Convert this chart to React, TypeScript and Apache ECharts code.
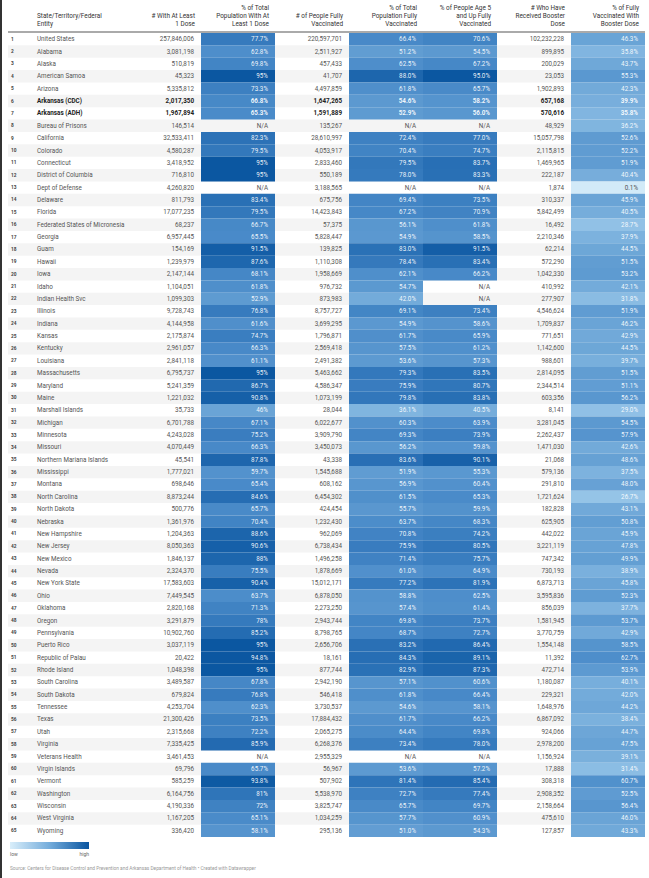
import React, { useEffect, useRef } from "react";
import * as echarts from "echarts";

const entities = [
  "United States", "Alabama", "Alaska", "American Samoa", "Arizona", "Arkansas (CDC)", "Arkansas (ADH)",
  "Bureau of Prisons", "California", "Colorado", "Connecticut", "District of Columbia", "Dept of Defense",
  "Delaware", "Florida", "Federated States of Micronesia", "Georgia", "Guam", "Hawaii", "Iowa", "Idaho",
  "Indian Health Svc", "Illinois", "Indiana", "Kansas", "Kentucky", "Louisiana", "Massachusetts", "Maryland",
  "Maine", "Marshall Islands", "Michigan", "Minnesota", "Missouri", "Northern Mariana Islands", "Mississippi",
  "Montana", "North Carolina", "North Dakota", "Nebraska", "New Hampshire", "New Jersey", "New Mexico",
  "Nevada", "New York State", "Ohio", "Oklahoma", "Oregon", "Pennsylvania", "Puerto Rico", "Republic of Palau",
  "Rhode Island", "South Carolina", "South Dakota", "Tennessee", "Texas", "Utah", "Virginia", "Veterans Health",
  "Virgin Islands", "Vermont", "Washington", "Wisconsin", "West Virginia", "Wyoming",
];

const atLeastOneDose = [
  257846006, 3081198, 510819, 45323, 5335812, 2017350, 1967894, 146514, 32533411, 4580287, 3418952, 716810,
  4260820, 811793, 17077235, 68237, 6957445, 154169, 1239979, 2147144, 1104051, 1099303, 9728743, 4144958,
  2175874, 2961057, 2841118, 6795737, 5241359, 1221032, 35733, 6701788, 4243028, 4070449, 45541, 1777021,
  698646, 8873244, 500776, 1361976, 1204363, 8050363, 1846137, 2324370, 17583603, 7449545, 2820168, 3291879,
  10902760, 3037119, 20422, 1048398, 3489587, 679824, 4253704, 21300426, 2315668, 7335425, 3461453, 69796,
  585259, 6164756, 4190336, 1167205, 336420,
];

const pctAtLeastOneDose = [
  77.7, 62.8, 69.8, 95, 73.3, 66.8, 65.3, null, 82.3, 79.5, 95, 95, null, 83.4, 79.5, 66.7, 65.5, 91.5, 87.6,
  68.1, 61.8, 52.9, 76.8, 61.6, 74.7, 66.3, 61.1, 95, 86.7, 90.8, 46, 67.1, 75.2, 66.3, 87.8, 59.7, 65.4, 84.6,
  65.7, 70.4, 88.6, 90.6, 88, 75.5, 90.4, 63.7, 71.3, 78, 85.2, 95, 94.8, 95, 67.8, 76.8, 62.3, 73.5, 72.2,
  85.9, null, 65.7, 93.8, 81, 72, 65.1, 58.1,
];

const fullyVaccinated = [
  220597701, 2511927, 457433, 41707, 4497859, 1647265, 1591889, 135267, 28610997, 4053917, 2833460, 550189,
  3188565, 675756, 14423843, 57375, 5828447, 139825, 1110308, 1958669, 976732, 873983, 8757727, 3699295,
  1796871, 2569418, 2491382, 5463662, 4586347, 1073199, 28044, 6022677, 3909790, 3450073, 43338, 1545688,
  608162, 6454302, 424454, 1232430, 962069, 6738434, 1496258, 1878669, 15012171, 6878050, 2273250, 2943744,
  8798765, 2656706, 18161, 877744, 2942190, 546418, 3730537, 17884432, 2065275, 6268376, 2955329, 56967,
  507902, 5538970, 3825747, 1034259, 295136,
];

const pctFullyVaccinated = [
  66.4, 51.2, 62.5, 88.0, 61.8, 54.6, 52.9, null, 72.4, 70.4, 79.5, 78.0, null, 69.4, 67.2, 56.1, 54.9, 83.0,
  78.4, 62.1, 54.7, 42.0, 69.1, 54.9, 61.7, 57.5, 53.6, 79.3, 75.9, 79.8, 36.1, 60.3, 69.3, 56.2, 83.6, 51.9,
  56.9, 61.5, 55.7, 63.7, 70.8, 75.9, 71.4, 61.0, 77.2, 58.8, 57.4, 69.8, 68.7, 83.2, 84.3, 82.9, 57.1, 61.8,
  54.6, 61.7, 64.4, 73.4, null, 53.6, 81.4, 72.7, 65.7, 57.7, 51.0,
];

const pctAge5UpFully = [
  70.6, 54.5, 67.2, 95.0, 65.7, 58.2, 56.0, null, 77.0, 74.7, 83.7, 83.3, null, 73.5, 70.9, 61.8, 58.5, 91.5,
  83.4, 66.2, null, null, 73.4, 58.6, 65.9, 61.2, 57.3, 83.5, 80.7, 83.8, 40.5, 63.9, 73.9, 59.8, 90.1, 55.3,
  60.4, 65.3, 59.9, 68.3, 74.2, 80.5, 75.7, 64.9, 81.9, 62.5, 61.4, 73.7, 72.7, 86.4, 89.1, 87.3, 60.6, 66.4,
  58.1, 66.2, 69.8, 78.0, null, 57.2, 85.4, 77.4, 69.7, 60.9, 54.3,
];

const boosterReceived = [
  102232228, 899895, 200029, 23053, 1902893, 657168, 570616, 48929, 15057798, 2115815, 1469965, 222187, 1874,
  310337, 5842499, 16492, 2210346, 62214, 572290, 1042330, 410992, 277907, 4546624, 1709837, 771651, 1142600,
  988601, 2814095, 2344514, 603356, 8141, 3281045, 2262437, 1471030, 21068, 579136, 291810, 1721624, 182828,
  625905, 442022, 3221119, 747342, 730193, 6873713, 3595836, 856039, 1581945, 3770759, 1554148, 11392, 472714,
  1180087, 229321, 1648976, 6867092, 924066, 2978200, 1156924, 17888, 308318, 2908352, 2158664, 475610, 127857,
];

const pctBoosted = [
  46.3, 35.8, 43.7, 55.3, 42.3, 39.9, 35.8, 36.2, 52.6, 52.2, 51.9, 40.4, 0.1, 45.9, 40.5, 28.7, 37.9, 44.5,
  51.5, 53.2, 42.1, 31.8, 51.9, 46.2, 42.9, 44.5, 39.7, 51.5, 51.1, 56.2, 29.0, 54.5, 57.9, 42.6, 48.6, 37.5,
  48.0, 26.7, 43.1, 50.8, 45.9, 47.8, 49.9, 38.9, 45.8, 52.3, 37.7, 53.7, 42.9, 58.5, 62.7, 53.9, 40.1, 42.0,
  44.2, 38.4, 44.7, 47.5, 39.1, 31.4, 60.7, 52.5, 56.4, 46.0, 43.3,
];

const columnHeaders = [
  "# With At Least\n1 Dose",
  "% of Total\nPopulation With At\nLeast 1 Dose",
  "# of People Fully\nVaccinated",
  "% of Total\nPopulation Fully\nVaccinated",
  "% of People Age 5\nand Up Fully\nVaccinated",
  "# Who Have\nReceived Booster\nDose",
  "% of Fully\nVaccinated With\nBooster Dose",
];

const boldEntities = ["Arkansas (CDC)", "Arkansas (ADH)"];

const columns: (number | null)[][] = [
  atLeastOneDose, pctAtLeastOneDose, fullyVaccinated, pctFullyVaccinated, pctAge5UpFully, boosterReceived, pctBoosted,
];
const isPct = [false, true, false, true, true, false, true];

// colour stops (value -> colour)
const stopValues = [0, 30, 46, 65, 80, 95];
const stopColors = ["#d2eaf8", "#8ebfe5", "#6aa4d6", "#4a8bc9", "#3277bb", "#0b57a1"];
const FONT = "Roboto";

function scaleColor(v: number) {
  if (v <= stopValues[0]) return stopColors[0];
  for (let k = 1; k < stopValues.length; k++) {
    if (v <= stopValues[k]) {
      const t = (v - stopValues[k - 1]) / (stopValues[k] - stopValues[k - 1]);
      return echarts.color.lerp(t, [stopColors[k - 1], stopColors[k]]) as string;
    }
  }
  return stopColors[stopColors.length - 1];
}

function fmt(j: number, v: number | null) {
  if (v == null) return "N/A";
  if (!isPct[j]) return v.toLocaleString("en-US");
  if (j === 1) return Number.isInteger(v) ? `${v}%` : `${v.toFixed(1)}%`;
  return `${v.toFixed(1)}%`;
}

export default function App() {
  const ref = useRef<HTMLDivElement>(null);
  useEffect(() => {
    if (!ref.current) return;
    const chart = echarts.init(ref.current, undefined, { renderer: "svg" });

    const cellData: number[][] = [];
    entities.forEach((_, i) => {
      columns.forEach((_, j) => cellData.push([j, i]));
    });
    const rowData = entities.map((_, i) => [0, i]);

    const option: any = {
      animation: false,
      backgroundColor: "#ffffff",
      textStyle: { fontFamily: FONT },
      grid: { left: 127, right: 4, top: 33, bottom: 41 },
      xAxis: {
        type: "category",
        data: columnHeaders,
        position: "top",
        z: 10,
        axisLine: { show: false },
        axisTick: { show: false },
        splitLine: { show: false },
        axisLabel: {
          interval: 0,
          margin: 5,
          formatter: (v: string) => v.split("\n").map((l) => `{h|${l}}`).join("\n"),
          rich: {
            h: { width: 62, align: "right", fontSize: 6.4, lineHeight: 8, color: "#333", fontFamily: FONT },
          },
        },
      },
      yAxis: {
        type: "category",
        data: entities,
        inverse: true,
        z: 10,
        axisLine: { show: false },
        axisTick: { show: false },
        splitLine: { show: false },
        axisLabel: {
          interval: 0,
          margin: 116,
          align: "left",
          formatter: (v: string, idx: number) => {
            const b = boldEntities.includes(v);
            return `{${b ? "nb" : "n"}|${idx + 1}}{${b ? "sb" : "s"}|${v}}`;
          },
          rich: {
            n: { width: 26, fontSize: 4.8, fontWeight: "bold", color: "#444", fontFamily: FONT },
            nb: { width: 26, fontSize: 4.8, fontWeight: "bold", color: "#444", fontFamily: FONT },
            s: { fontSize: 6.3, color: "#555", fontFamily: FONT },
            sb: { fontSize: 6.3, fontWeight: "bold", color: "#222", fontFamily: FONT },
          },
        },
      },
      series: [
        {
          type: "custom",
          silent: true,
          data: rowData,
          z: 0,
          zlevel: 0,
          renderItem: (params: any, api: any) => {
            const i = params.dataIndex;
            const c = api.coord([0, i]);
            const h = api.size([0, 1])[1];
            const cs = params.coordSys;
            if (i % 2 === 0) return { type: "group", children: [] };
            return {
              type: "rect",
              z2: -10,
              shape: { x: cs.x - 119, y: c[1] - h / 2, width: cs.width + 119, height: h },
              style: { fill: "#f4f4f4" },
            };
          },
        },
        {
          type: "custom",
          silent: true,
          data: cellData,
          z: 2,
          renderItem: (params: any, api: any) => {
            const idx = params.dataIndex;
            const j = idx % columns.length;
            const i = Math.floor(idx / columns.length);
            const c = api.coord([j, i]);
            const s = api.size([1, 1]);
            const x0 = c[0] - s[0] / 2;
            const y0 = c[1] - s[1] / 2;
            const v = columns[j][i];
            const bold = boldEntities.includes(entities[i]);
            const children: any[] = [];
            let fill = bold ? "#222" : "#555";
            if (isPct[j] && v != null) {
              children.push({
                type: "rect",
                shape: { x: x0, y: y0, width: s[0], height: s[1] },
                style: { fill: scaleColor(v) },
              });
              fill = v < 15 ? "#555" : "rgba(255,255,255,0.92)";
            }
            children.push({
              type: "text",
              style: {
                text: fmt(j, v),
                x: x0 + s[0] - 7,
                y: c[1],
                align: "right",
                verticalAlign: "middle",
                fill,
                fontSize: 6.3,
                fontFamily: FONT,
                fontWeight: bold ? "bold" : "normal",
              },
            });
            return { type: "group", children };
          },
        },
      ],
      graphic: [
        {
          type: "line",
          shape: { x1: 1, y1: 0, x2: 1, y2: 878 },
          style: { stroke: "#333", lineWidth: 2 },
        },
        {
          type: "line",
          shape: { x1: 8, y1: 32, x2: 645, y2: 32 },
          style: { stroke: "#aaaaaa", lineWidth: 2 },
        },
        {
          type: "text",
          x: 37,
          y: 12,
          style: {
            text: "State/Territory/Federal\nEntity",
            fontSize: 6.4,
            lineHeight: 8,
            fill: "#333",
            fontFamily: FONT,
          },
        },
        {
          type: "rect",
          shape: { x: 10, y: 842, width: 79, height: 7 },
          style: {
            fill: new echarts.graphic.LinearGradient(0, 0, 1, 0, [
              { offset: 0, color: "#d9eefa" },
              { offset: 0.5, color: "#74acdb" },
              { offset: 1, color: "#0a55a0" },
            ]),
          },
        },
        {
          type: "text",
          x: 10,
          y: 851,
          style: { text: "low", fontSize: 5, fill: "#666", fontFamily: FONT },
        },
        {
          type: "text",
          x: 89,
          y: 851,
          style: { text: "high", fontSize: 5, fill: "#666", align: "right", fontFamily: FONT },
        },
        {
          type: "text",
          x: 10,
          y: 866,
          style: {
            text: "Source: Centers for Disease Control and Prevention and Arkansas Department of Health • Created with Datawrapper",
            fontSize: 4.8,
            fill: "#999",
            fontFamily: FONT,
          },
        },
      ],
    };
    chart.setOption(option);
    return () => chart.dispose();
  }, []);
  return (
    <div
      ref={ref}
      style={{ position: "absolute", left: 0, top: 0, width: 649, height: 878 }}
    />
  );
}
